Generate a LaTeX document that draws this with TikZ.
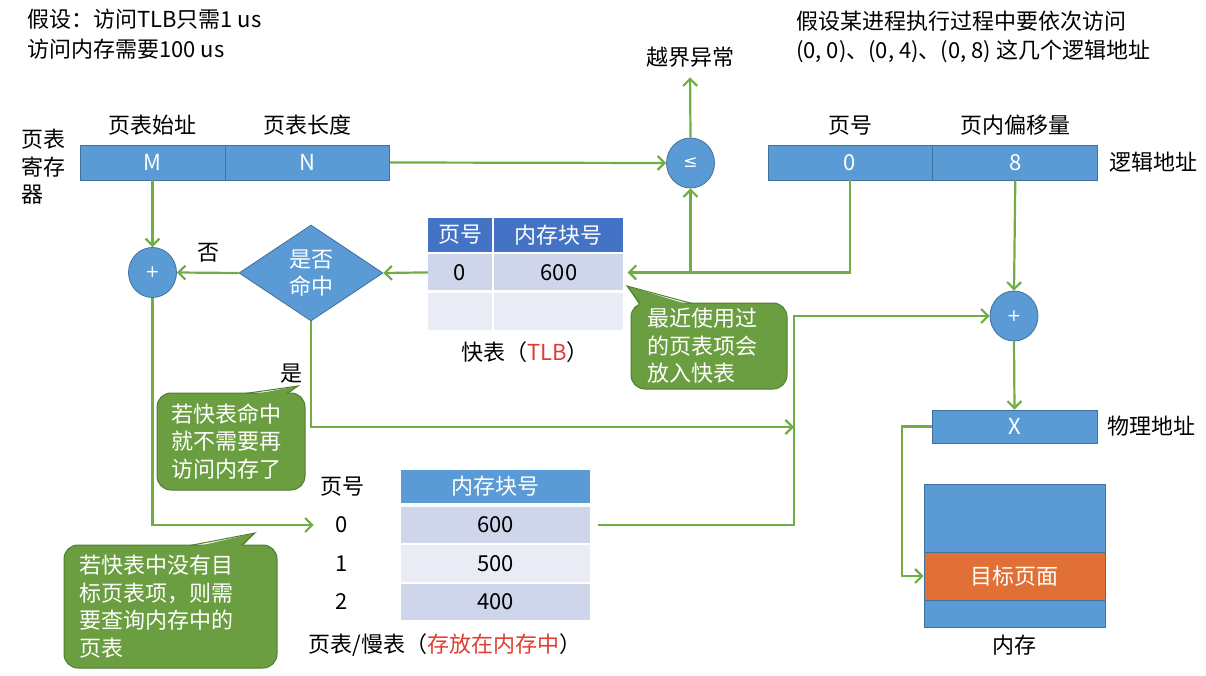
\documentclass[tikz,border=0pt]{standalone}
\usepackage{fontspec}
\setmainfont{Noto Sans CJK SC}
\newfontfamily\symfont{DejaVu Sans}
\usetikzlibrary{arrows.meta,positioning,shapes.geometric,calc}

\definecolor{boxblue}{HTML}{5B9BD5}
\definecolor{edgeblue}{HTML}{41719C}
\definecolor{headblue}{HTML}{4472C4}
\definecolor{rowdark}{HTML}{CFD5EA}
\definecolor{rowlight}{HTML}{E9EBF5}
\definecolor{arrgreen}{HTML}{70AD47}
\definecolor{notegreen}{HTML}{6B9E40}
\definecolor{noteedge}{HTML}{507E32}
\definecolor{pageorange}{HTML}{E07035}
\definecolor{hotred}{HTML}{E03C31}

\begin{document}
\begin{tikzpicture}[
  x=1pt, y=-1pt,
  font=\fontsize{22}{28}\selectfont,
  every node/.style={inner sep=0pt},
  regbox/.style={rectangle, fill=boxblue, draw=edgeblue, line width=0.8pt,
                 text=white, minimum height=35},
  head/.style={rectangle, fill=headblue, text=white, minimum height=34},
  rowa/.style={rectangle, fill=rowdark, minimum height=36},
  rowb/.style={rectangle, fill=rowlight, minimum height=37},
  dot/.style={ellipse, fill=boxblue, draw=edgeblue, line width=0.8pt, text=white,
              minimum width=48, minimum height=50, font=\symfont\fontsize{17}{17}\selectfont},
  note/.style={rectangle, rounded corners=14pt, fill=notegreen, draw=noteedge,
               line width=1pt, text=white, align=left, font=\fontsize{22}{27.5}\selectfont},
  arr/.style={draw=arrgreen, line width=2.2pt, -{Straight Barb[length=7pt,width=14pt]}},
  tail/.style={draw=noteedge, line width=1pt}
]
\useasboundingbox (0,0) rectangle (1206,676);

% assumptions
\node[anchor=north west, align=left, font=\fontsize{22}{30}\selectfont] (assume) at (27,9)
  {假设：访问TLB只需1 us\\访问内存需要100 us};
\node[anchor=north west, align=left, font=\fontsize{22}{29}\selectfont] (visits) at (796,11)
  {假设某进程执行过程中要依次访问\\(0, 0)、(0, 4)、(0, 8) 这几个逻辑地址};

% page table register
\node[regbox, minimum width=145] (regM) at (152.5,162.5) {M};
\node[regbox, minimum width=164, right=0pt of regM] (regN) {N};
\node[above=9pt of regM] (startlbl) {页表始址};
\node[above=9pt of regN] (lenlbl) {页表长度};
\node[anchor=west, align=left, font=\fontsize{22}{27.5}\selectfont] (reglbl) at (21,167) {页表\\寄存\\器};

% bound check
\node[dot] (cmp) at (690.5,163) {≤};
\node (overflow) at (690,57) {越界异常};

% logical address
\node[regbox, minimum width=164] (pgno) at (850,162.5) {0};
\node[regbox, minimum width=165, right=0pt of pgno] (offs) {8};
\node[above=9pt of pgno] (pgnolbl) {页号};
\node[above=9pt of offs] (offslbl) {页内偏移量};
\node[right=11pt of offs] (logiclbl) {逻辑地址};

% TLB
\node[head, minimum width=64] (tlbh1) at (460,235) {页号};
\node[head, minimum width=129, right=2pt of tlbh1] (tlbh2) {内存块号};
\node[rowa, minimum width=64, below=2pt of tlbh1] (tlbk) {0};
\node[rowa, minimum width=129, below=2pt of tlbh2] (tlbv) {600};
\node[rowb, minimum width=64, below=2pt of tlbk] (tlbk2) {};
\node[rowb, minimum width=129, below=2pt of tlbv] (tlbv2) {};
\node (tlblbl) at (525,352) {快表（\textcolor{hotred}{TLB}）};

% hit test and adders
\node[diamond, fill=boxblue, draw=edgeblue, line width=0.8pt, text=white, align=center,
      minimum width=144, minimum height=96, font=\fontsize{22}{27}\selectfont] (hit) at (311,273) {是否\\命中};
\node[dot] (addr1) at (152.5,272.5) {+};
\node[dot] (addr2) at (1014,316) {+};
\node (nolbl) at (208,253) {否};
\node (yeslbl) at (291,374) {是};

% physical address and memory
\node[regbox, minimum width=165, minimum height=33] (phys) at (1014.5,426.5) {X};
\node[right=10pt of phys] (physlbl) {物理地址};
\node[rectangle, fill=boxblue, draw=edgeblue, line width=0.8pt,
      minimum width=181, minimum height=143] (mem) at (1014.5,555.5) {};
\node[rectangle, fill=pageorange, draw=edgeblue, line width=0.8pt, text=white,
      minimum width=181, minimum height=48] (target) at (1014.5,576) {目标页面};
\node (memlbl) at (1014,645) {内存};

% page table in memory
\node[rectangle, fill=boxblue, text=white, minimum width=189, minimum height=33] (ptsh) at (495.5,486.5) {内存块号};
\node[rowa, minimum width=189] (ptv0) at (495.5,525) {600};
\node[rowb, minimum width=189] (ptv1) at (495.5,563.5) {500};
\node[rowa, minimum width=189] (ptv2) at (495.5,602) {400};
\node (ptno) at (342,487) {页号};
\node (ptk0) at (342,525) {0};
\node (ptk1) at (342,563.5) {1};
\node (ptk2) at (342,602) {2};
\node (ptlbl) at (445,645) {页表/慢表（\textcolor{hotred}{存放在内存中}）};

% callouts
\node[note, text width=124, inner xsep=16, minimum height=86] (tlbnote) at (709,346)
  {最近使用过\\的页表项会\\放入快表};
\node[note, text width=120, inner xsep=14, minimum height=97] (hitnote) at (231,441.5)
  {若快表命中\\就不需要再\\访问内存了};
\node[note, text width=183, inner xsep=15, minimum height=123] (missnote) at (170.5,606.5)
  {若快表中没有目\\标页表项，则需\\要查询内存中的\\页表};
\fill[notegreen] (640,306) -- (627,286) -- (693,306) -- cycle;
\draw[tail] (640,303.5) -- (627,286) -- (692,303.5);
\fill[notegreen] (245,396) -- (298,386) -- (284,397) -- (245,397) -- cycle;
\draw[tail] (245,393.5) -- (298,386) -- (287,393.5);
\fill[notegreen] (190,548) -- (255,533) -- (241,548) -- cycle;
\draw[tail] (190,545.5) -- (255,533) -- (241,545.5);

% connectors
\coordinate (join) at (794,427);
\draw[arr] (regN.east) -- (cmp.west);
\draw[arr, shorten >=10pt] (cmp.north) -- (overflow.south);
\draw[arr] (pgno.south) |- ([xshift=4pt]tlbv.east);
\draw[arr] (cmp.south |- tlbv.east) -- (cmp.south);
\draw[arr] (offs.south) -- (addr2.north);
\draw[arr] (addr2.south) -- (phys.north);
\draw[arr] (phys.west) -- ++(-30,0) |- (target.west);
\draw[arr] (regM.south) -- (addr1.north);
\draw[arr] (tlbk.west) -- (hit.east);
\draw[arr] (hit.west) -- (addr1.east);
\draw[arr] (hit.south) |- (join);
\draw[arr] (addr1.south) |- ([xshift=-22pt]ptk0.west);
\draw[arr] ([xshift=8pt]ptv0.east) -| (join) |- (addr2.west);
\end{tikzpicture}
\end{document}
